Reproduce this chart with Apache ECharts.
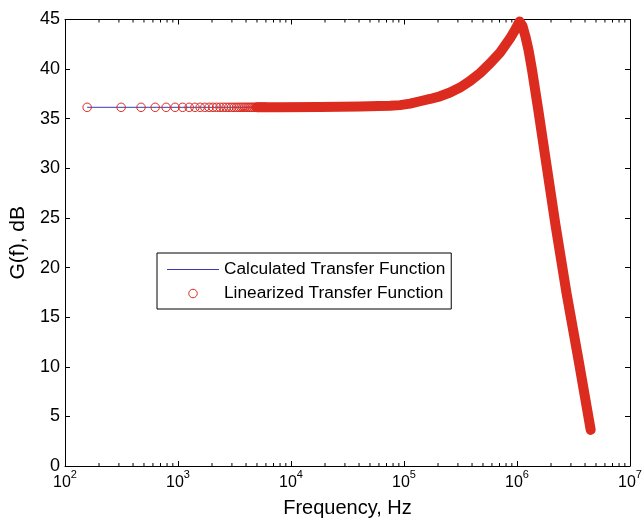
<!DOCTYPE html>
<html>
<head>
<meta charset="utf-8">
<script src="https://cdn.jsdelivr.net/npm/echarts@6/dist/echarts.min.js"></script>
<style>html,body{margin:0;padding:0;background:#fff}#c{width:643px;height:518px}</style>
</head>
<body>
<div id="c"></div>
<script>
// ---- data ----
var xTickValues = [100, 1000, 10000, 100000, 1000000, 10000000];
var yTickValues = [0, 5, 10, 15, 20, 25, 30, 35, 40, 45];

// Calculated transfer function (Hz, dB)
var freqCalc = [157, 1000, 5000, 7990, 18060, 40800, 60000, 75160, 92170, 113000, 138500, 169900, 208200, 255400, 313100, 383800, 470600, 577000, 707300, 867200, 960300, 1052000, 1119000, 1184000, 1264000, 1358000, 1543000, 1769000, 2191000, 2742000, 3502000, 4489000];
var gainCalc = [36.15, 36.15, 36.15, 36.16, 36.18, 36.23, 36.27, 36.31, 36.37, 36.52, 36.76, 36.99, 37.26, 37.64, 38.14, 38.80, 39.60, 40.57, 41.67, 43.09, 43.94, 44.80, 44.34, 43.34, 41.93, 39.92, 35.88, 31.34, 24.29, 17.44, 10.69, 3.64];

// Linearized transfer function: individually visible circles (low frequency)
var freqLinCircles = [157, 314, 471, 628, 785, 942, 1099, 1256, 1413, 1570, 1727, 1884, 2041, 2198, 2355, 2512, 2669, 2826, 2983, 3140, 3297, 3454, 3611, 3768, 3925, 4082, 4239, 4396, 4553, 4710, 4867, 5024, 5181, 5338, 5495, 5652, 5809, 5966];
var gainLinCircles = [36.15, 36.15, 36.15, 36.15, 36.15, 36.15, 36.15, 36.15, 36.15, 36.15, 36.15, 36.15, 36.15, 36.15, 36.15, 36.15, 36.15, 36.15, 36.15, 36.15, 36.15, 36.15, 36.15, 36.15, 36.15, 36.15, 36.15, 36.15, 36.15, 36.15, 36.15, 36.15, 36.15, 36.15, 36.15, 36.15, 36.15, 36.15];

// Linearized transfer function: dense region where the circles merge into a band
var freqLinBand = [5000, 7990, 18060, 40800, 60000, 75160, 92170, 113000, 138500, 169900, 208200, 255400, 313100, 383800, 470600, 577000, 707300, 867200, 960300, 1052000, 1119000, 1184000, 1264000, 1358000, 1543000, 1769000, 2191000, 2742000, 3502000, 4489000];
var gainLinBand = [36.15, 36.16, 36.18, 36.23, 36.27, 36.31, 36.37, 36.52, 36.76, 36.99, 37.26, 37.64, 38.14, 38.80, 39.60, 40.57, 41.67, 43.09, 43.94, 44.80, 44.34, 43.34, 41.93, 39.92, 35.88, 31.34, 24.29, 17.44, 10.69, 3.64];

var nameCalc = 'Calculated Transfer Function';
var nameLin = 'Linearized Transfer Function';

function zip(a, b) { return a.map(function (v, i) { return [v, b[i]]; }); }

var FONT = 'Liberation Sans, Arial, Helvetica, sans-serif';
var RED = '#dc2b1f';
var BLUE = '#3a3ab2';

var chart = echarts.init(document.getElementById('c'), null, { renderer: 'canvas' });

var axisLine = { show: true, onZero: false, lineStyle: { color: '#000', width: 1 } };
var tickIn = { show: true, inside: true, length: 5, lineStyle: { color: '#000', width: 1 } };

var option = {
  backgroundColor: '#fff',
  animation: false,
  textStyle: { fontFamily: FONT },
  grid: { left: 65, top: 19.5, width: 565, height: 446.5, containLabel: false, outerBoundsMode: 'none' },
  legend: {
    orient: 'vertical',
    left: 157, top: 253,
    data: [
      { name: nameCalc, icon: 'path://M0,0H52V1.1H0Z', itemStyle: { color: BLUE, borderWidth: 0 } },
      { name: nameLin, itemStyle: { borderWidth: 1 } }
    ],
    itemWidth: 52, itemHeight: 8.5, itemGap: 7,
    padding: [8, 6, 7, 10],
    borderColor: '#000', borderWidth: 1, backgroundColor: '#fff',
    textStyle: { fontFamily: FONT, fontSize: 17.3, color: '#000', lineHeight: 17 },
    selectedMode: false
  },
  xAxis: [{
    type: 'log', logBase: 10, min: 100, max: 10000000, position: 'bottom',
    axisLine: axisLine, axisTick: tickIn, splitLine: { show: false }, minorTick: { show: false },
    axisLabel: {
      margin: 3, color: '#000',
      formatter: function (v) { return '{b|10}{s|' + Math.round(Math.log10(v)) + '}'; },
      rich: {
        b: { fontFamily: FONT, fontSize: 16, color: '#000', lineHeight: 22, verticalAlign: 'bottom' },
        s: { fontFamily: FONT, fontSize: 11, color: '#000', lineHeight: 22, verticalAlign: 'top' }
      }
    },
    name: 'Frequency, Hz', nameLocation: 'middle', nameGap: 32,
    nameTextStyle: { fontFamily: FONT, fontSize: 20, color: '#000' }
  }, {
    type: 'log', logBase: 10, min: 100, max: 10000000, position: 'top',
    axisLine: axisLine, axisTick: tickIn, axisLabel: { show: false }, splitLine: { show: false }
  }],
  yAxis: [{
    type: 'value', min: 0, max: 45, interval: 5, position: 'left',
    axisLine: axisLine, axisTick: tickIn, splitLine: { show: false },
    axisLabel: { margin: 5, fontFamily: FONT, fontSize: 18, color: '#000' },
    name: 'G(f), dB', nameLocation: 'middle', nameGap: 36, nameRotate: 90,
    nameTextStyle: { fontFamily: FONT, fontSize: 21, color: '#000' }
  }, {
    type: 'value', min: 0, max: 45, interval: 5, position: 'right',
    axisLine: axisLine, axisTick: tickIn, axisLabel: { show: false }, splitLine: { show: false }
  }],
  series: [{
    name: nameCalc, type: 'line', data: zip(freqCalc, gainCalc),
    symbol: 'none', lineStyle: { color: BLUE, width: 1 }, itemStyle: { color: BLUE }, z: 2
  }, {
    name: nameLin, type: 'scatter', data: zip(freqLinCircles, gainLinCircles),
    symbol: 'circle', symbolSize: 8.5,
    itemStyle: { color: 'rgba(0,0,0,0)', borderColor: RED, borderWidth: 1, opacity: 1 }, z: 3
  }, {
    name: nameLin, type: 'line', data: zip(freqLinBand, gainLinBand),
    symbol: 'none', smooth: false, clip: false,
    lineStyle: { color: RED, width: 10, cap: 'round', join: 'round' }, itemStyle: { color: RED }, z: 4
  }]
};
chart.setOption(option);

// minor (2..9) ticks on the log axes, positioned via the axis scale
function drawMinor() {
  var yBot = chart.convertToPixel({ yAxisIndex: 0 }, 0);
  var yTop = chart.convertToPixel({ yAxisIndex: 0 }, 45);
  var els = [];
  for (var d = 100; d < 10000000; d *= 10) {
    for (var m = 2; m <= 9; m++) {
      var x = chart.convertToPixel({ xAxisIndex: 0 }, d * m);
      els.push({ type: 'line', silent: true, z: 10, shape: { x1: x, y1: yBot, x2: x, y2: yBot - 3 }, style: { stroke: '#000', lineWidth: 1 } });
      els.push({ type: 'line', silent: true, z: 10, shape: { x1: x, y1: yTop, x2: x, y2: yTop + 3 }, style: { stroke: '#000', lineWidth: 1 } });
    }
  }
  chart.setOption({ graphic: els });
}
drawMinor();
</script>
</body>
</html>
